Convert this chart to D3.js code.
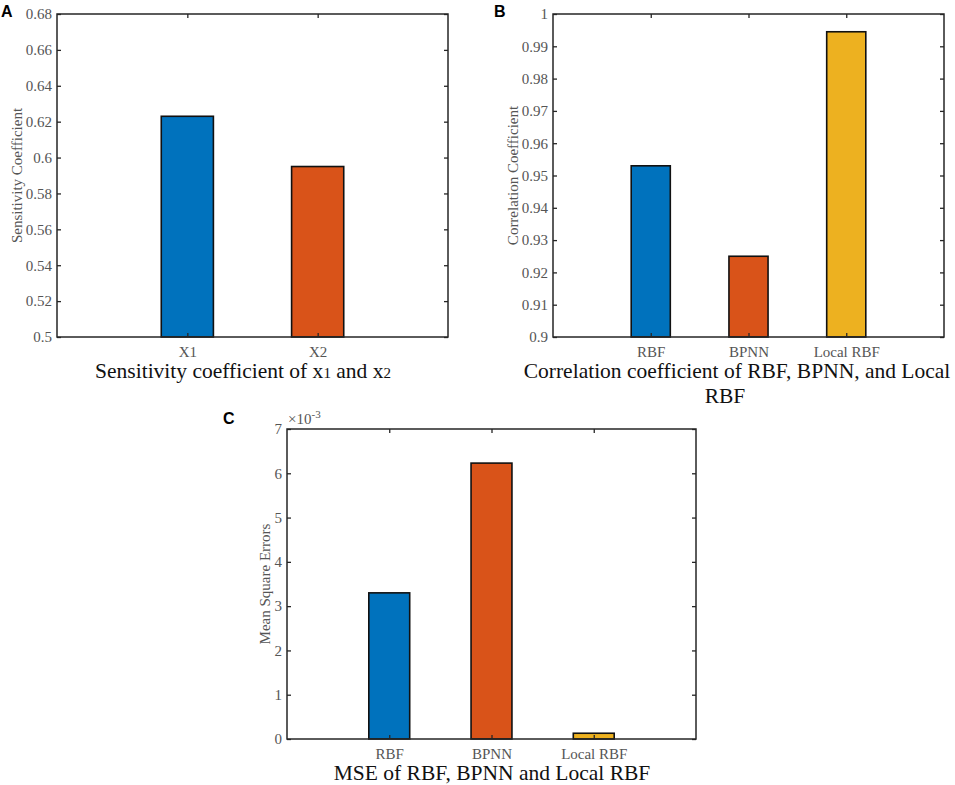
<!DOCTYPE html>
<html>
<head>
<meta charset="utf-8">
<script src="https://cdn.jsdelivr.net/npm/d3@7"></script>
<style>
  body { margin: 0; background: #fff; }
  svg { display: block; }
  .tick text { font-family: "Liberation Serif", "Times New Roman", serif; fill: #555; }
</style>
</head>
<body>
<svg id="chart" width="955" height="785"></svg>
<script>
// Panel A: sensitivity coefficients
const catsA = ["X1", "X2"];
const valsA = [0.623, 0.595];
const ticksA = [0.5, 0.52, 0.54, 0.56, 0.58, 0.6, 0.62, 0.64, 0.66, 0.68];

// Panel B: correlation coefficients
const catsB = ["RBF", "BPNN", "Local RBF"];
const valsB = [0.953, 0.925, 0.9945];
const ticksB = [0.9, 0.91, 0.92, 0.93, 0.94, 0.95, 0.96, 0.97, 0.98, 0.99, 1];

// Panel C: mean square errors
const catsC = ["RBF", "BPNN", "Local RBF"];
const valsC = [0.00330, 0.00623, 0.00013];
const ticksC = [0, 0.001, 0.002, 0.003, 0.004, 0.005, 0.006, 0.007];

const barColors = ["#0072BD", "#D95319", "#EDB120"];
const axisColor = "#262626";
const serif = "'Liberation Serif', 'Times New Roman', serif";

const svg = d3.select("#chart");

function panel(cfg) {
  const g = svg.append("g").attr("transform", `translate(${cfg.left},${cfg.top})`);
  const w = cfg.width, h = cfg.height;

  const x = d3.scaleLinear().domain([0, cfg.cats.length + 1]).range([0, w]);
  const y = d3.scaleLinear().domain(cfg.yDomain).range([h, 0]);
  const bw = x(0.4) - x(0);

  // bars
  g.selectAll("rect.bar")
    .data(cfg.vals)
    .join("rect")
      .attr("class", "bar")
      .attr("x", (d, i) => x(i + 1) - bw / 2)
      .attr("y", d => y(d))
      .attr("width", bw)
      .attr("height", d => h - y(d))
      .attr("fill", (d, i) => barColors[i])
      .attr("stroke", "#111")
      .attr("stroke-width", 1.6);

  // axes with inward ticks on all four sides
  const catTicks = cfg.cats.map((c, i) => i + 1);
  const left = g.append("g")
    .call(d3.axisLeft(y).tickValues(cfg.ticks).tickFormat(cfg.fmt)
      .tickSizeInner(-4).tickSizeOuter(0).tickPadding(5));
  const right = g.append("g").attr("transform", `translate(${w},0)`)
    .call(d3.axisRight(y).tickValues(cfg.ticks).tickFormat("")
      .tickSizeInner(-4).tickSizeOuter(0));
  const bottom = g.append("g").attr("transform", `translate(0,${h})`)
    .call(d3.axisBottom(x).tickValues(catTicks).tickFormat((d, i) => cfg.cats[i])
      .tickSizeInner(-4).tickSizeOuter(0).tickPadding(9));
  const top = g.append("g")
    .call(d3.axisTop(x).tickValues(catTicks).tickFormat("")
      .tickSizeInner(-4).tickSizeOuter(0));

  [left, right, bottom, top].forEach(a => {
    a.select(".domain").remove();
    a.selectAll(".tick line").attr("stroke", axisColor).attr("stroke-width", 1.3);
    a.selectAll(".tick text").style("font-size", "15px");
  });

  g.append("rect")
    .attr("width", w).attr("height", h)
    .attr("fill", "none")
    .attr("stroke", axisColor)
    .attr("stroke-width", 1.5);

  // y-axis label
  g.append("text")
    .attr("transform", `translate(${cfg.ylabX},${h / 2}) rotate(-90)`)
    .attr("text-anchor", "middle")
    .style("font-family", serif)
    .style("font-size", "15px")
    .style("fill", "#555")
    .text(cfg.ylabel);

  // caption below the axes
  const cap = g.append("text")
    .attr("y", h + cfg.capDy)
    .attr("text-anchor", "middle")
    .style("font-family", serif)
    .style("font-size", "21.5px")
    .style("fill", "#111");
  cfg.caption.forEach((line, i) => {
    cap.append("tspan")
      .attr("x", cfg.capX[i])
      .attr("dy", i === 0 ? 0 : 25)
      .html(line);
  });

  // panel letter
  svg.append("text")
    .attr("x", cfg.letterX)
    .attr("y", cfg.letterY)
    .style("font-family", "'Liberation Sans', Arial, sans-serif")
    .style("font-weight", "bold")
    .style("font-size", "16px")
    .text(cfg.letter);

  return g;
}

panel({
  left: 57, top: 14, width: 391, height: 323,
  cats: catsA, vals: valsA, ticks: ticksA, yDomain: [0.5, 0.68],
  fmt: d3.format("~g"),
  ylabel: "Sensitivity Coefficient", ylabX: -35,
  caption: ['Sensitivity coefficient of x<tspan font-size="15px">1</tspan> and x<tspan font-size="15px">2</tspan>'],
  capX: [186], capDy: 41,
  letter: "A", letterX: 1, letterY: 17
});

panel({
  left: 553, top: 14, width: 391, height: 323,
  cats: catsB, vals: valsB, ticks: ticksB, yDomain: [0.9, 1],
  fmt: d3.format("~g"),
  ylabel: "Correlation Coefficient", ylabX: -35,
  caption: ["Correlation coefficient of RBF, BPNN, and Local", "RBF"],
  capX: [184, 172], capDy: 41,
  letter: "B", letterX: 494, letterY: 17
});

const gC = panel({
  left: 287, top: 429, width: 409, height: 310,
  cats: catsC, vals: valsC, ticks: ticksC, yDomain: [0, 0.007],
  fmt: d => d3.format("~g")(Math.round(d * 1000)),
  ylabel: "Mean Square Errors", ylabX: -17,
  caption: ["MSE of RBF, BPNN and Local RBF"],
  capX: [205], capDy: 41,
  letter: "C", letterX: 223, letterY: 424
});

// exponent marker above the y-axis of panel C
gC.append("text")
  .attr("x", 1)
  .attr("y", -5)
  .style("font-family", serif)
  .style("font-size", "15px")
  .style("fill", "#555")
  .html('\u00d710<tspan dy="-6" font-size="11px">-3</tspan>');
</script>
</body>
</html>
